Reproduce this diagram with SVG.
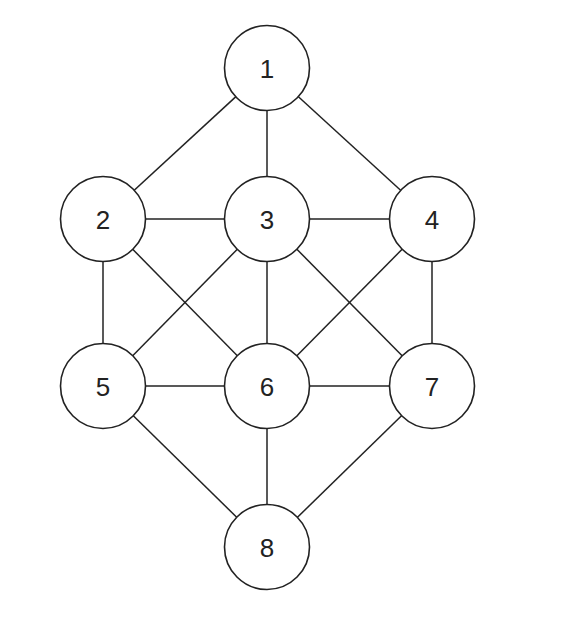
<svg xmlns="http://www.w3.org/2000/svg" width="566" height="631" viewBox="0 0 566 631">
<style>
.e{stroke:#222;stroke-width:1.5;fill:none}
.n circle{fill:#fff;stroke:#222;stroke-width:1.6}
.n text{font-family:"Liberation Sans",Arial,sans-serif;font-size:26px;fill:#222;text-anchor:middle;dominant-baseline:central}
</style>
<rect width="566" height="631" fill="#fff"/>
<g id="connectors">
<line class="e" x1="267" y1="68" x2="103" y2="219"/>
<line class="e" x1="267" y1="68" x2="267" y2="219"/>
<line class="e" x1="267" y1="68" x2="432" y2="219"/>
<line class="e" x1="103" y1="219" x2="267" y2="219"/>
<line class="e" x1="267" y1="219" x2="432" y2="219"/>
<line class="e" x1="103" y1="219" x2="103" y2="386"/>
<line class="e" x1="103" y1="219" x2="267" y2="386"/>
<line class="e" x1="267" y1="219" x2="103" y2="386"/>
<line class="e" x1="267" y1="219" x2="267" y2="386"/>
<line class="e" x1="267" y1="219" x2="432" y2="386"/>
<line class="e" x1="432" y1="219" x2="267" y2="386"/>
<line class="e" x1="432" y1="219" x2="432" y2="386"/>
<line class="e" x1="103" y1="386" x2="267" y2="386"/>
<line class="e" x1="267" y1="386" x2="432" y2="386"/>
<line class="e" x1="103" y1="386" x2="267" y2="547"/>
<line class="e" x1="267" y1="386" x2="267" y2="547"/>
<line class="e" x1="432" y1="386" x2="267" y2="547"/>
</g>
<g id="node1" class="n"><circle cx="267" cy="68" r="42.5"/><text x="267" y="69">1</text></g>
<g id="node2" class="n"><circle cx="103" cy="219" r="42.5"/><text x="103" y="220">2</text></g>
<g id="node3" class="n"><circle cx="267" cy="219" r="42.5"/><text x="267" y="220">3</text></g>
<g id="node4" class="n"><circle cx="432" cy="219" r="42.5"/><text x="432" y="220">4</text></g>
<g id="node5" class="n"><circle cx="103" cy="386" r="42.5"/><text x="103" y="387">5</text></g>
<g id="node6" class="n"><circle cx="267" cy="386" r="42.5"/><text x="267" y="387">6</text></g>
<g id="node7" class="n"><circle cx="432" cy="386" r="42.5"/><text x="432" y="387">7</text></g>
<g id="node8" class="n"><circle cx="267" cy="547" r="42.5"/><text x="267" y="548">8</text></g>
</svg>
